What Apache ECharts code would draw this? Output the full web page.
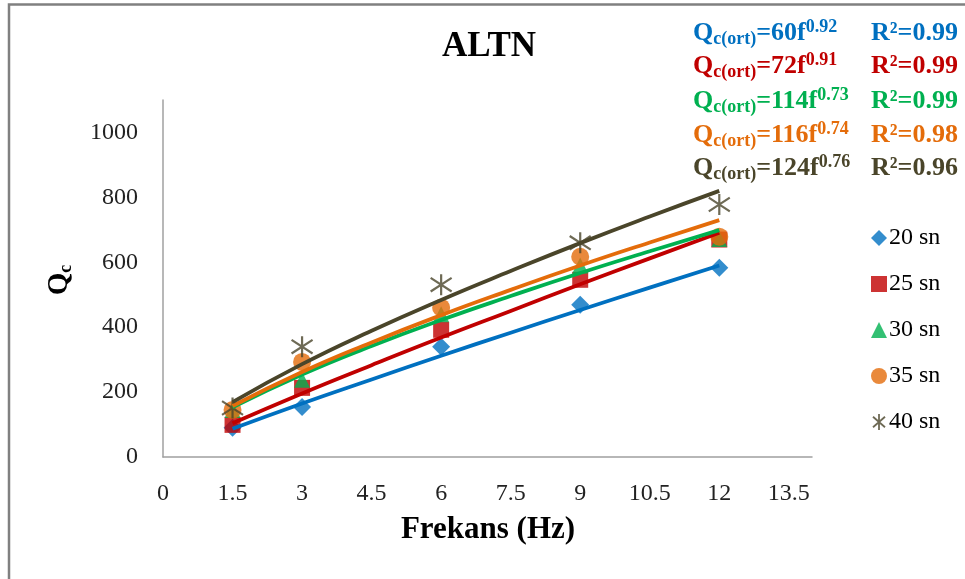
<!DOCTYPE html>
<html><head><meta charset="utf-8">
<script src="https://cdn.jsdelivr.net/npm/echarts@6/dist/echarts.min.js"></script>
<style>html,body{margin:0;padding:0;background:#fff}#c{width:965px;height:579px}</style>
</head><body><div id="c"></div>
<script>
// ---- data ----
const freq = [1.5, 3, 6, 9, 12];
const s20 = [90, 154, 340, 469, 583];
const s25 = [99, 213, 392, 546, 670];
const s30 = [145, 238, 440, 590, 672];
const s35 = [145, 293, 460, 617, 679];
const s40 = [151, 340, 531, 660, 778];
// trend-line values
const trendFreq = [1.5, 3, 4.5, 6, 7.5, 9, 10.5, 12];
const t20 = [87, 165, 239, 312, 383, 453, 522, 590];
const t25 = [104, 196, 283, 368, 450, 532, 612, 691];
const t30 = [153, 254, 342, 422, 496, 567, 634, 699];
const t35 = [157, 262, 353, 437, 515, 590, 661, 730];
const t40 = [169, 286, 389, 484, 573, 659, 741, 820];
const seriesNames = ['20 sn', '25 sn', '30 sn', '35 sn', '40 sn'];
const eqCoef = ['60', '72', '114', '116', '124'];
const eqExp = ['0.92', '0.91', '0.73', '0.74', '0.76'];
const eqR2 = ['0.99', '0.99', '0.99', '0.98', '0.96'];
const titleText = 'ALTN';
const xName = 'Frekans (Hz)';

// ---- styling ----
const FONT = '"Liberation Serif", "Times New Roman", serif';
const colors = ['#0070C0', '#C00000', '#00B050', '#E46C0A', '#4A452A'];
const symbols = ['diamond', 'rect', 'triangle', 'circle',
  'path://M10,0L10,20M2.5,3.5L17.5,16.5M2.5,16.5L17.5,3.5'];
const symSizes = [18, 16, 16, 18, 21];
const pts = [s20, s25, s30, s35, s40];
const trends = [t20, t25, t30, t35, t40];

const series = [];
trends.forEach((t, i) => {
  series.push({
    name: 'trend' + i, type: 'line', smooth: true, showSymbol: false, symbol: 'none',
    data: trendFreq.map((x, k) => [x, t[k]]),
    lineStyle: { color: colors[i], width: 3.8 }, z: 5 + i, silent: true
  });
});
pts.forEach((p, i) => {
  const isStar = i === 4;
  series.push({
    name: seriesNames[i], type: 'scatter', symbol: symbols[i], symbolSize: symSizes[i],
    data: freq.map((x, k) => [x, p[k]]),
    itemStyle: isStar ? { color: 'rgba(0,0,0,0)', borderColor: colors[i], borderWidth: 2.2 }
                      : { color: colors[i] },
    z: 2 + i
  });
});

const graphics = [
  { type: 'rect', shape: { x: 9, y: 4.5, width: 1200, height: 1200 },
    style: { fill: 'none', stroke: '#808080', lineWidth: 2.5 }, silent: true },
  { type: 'text', x: 489, y: 47, style: { text: titleText, font: 'bold 35px ' + FONT,
      fill: '#000', align: 'center', verticalAlign: 'middle' } },
  { type: 'text', x: 488, y: 530, style: { text: xName, font: 'bold 31px ' + FONT,
      fill: '#000', align: 'center', verticalAlign: 'middle' } },
  { type: 'text', x: 60, y: 280, rotation: Math.PI / 2,
    style: { text: '{q|Q}{s|c}', align: 'center', verticalAlign: 'middle', fill: '#000',
      rich: { q: { fontFamily: FONT, fontWeight: 'bold', fontSize: 29, fill: '#000', lineHeight: 32, verticalAlign: 'middle' },
              s: { fontFamily: FONT, fontWeight: 'bold', fontSize: 18, fill: '#000', lineHeight: 32, verticalAlign: 'middle', padding: [12, 0, 0, 0] } } } }
];
const rowY = [33, 66, 101, 135, 168];
eqCoef.forEach((c, i) => {
  const col = colors[i];
  graphics.push({ type: 'text', x: 693, y: rowY[i],
    style: { text: `{q|Q}{s|c(ort)}{e|=${c}f}{p|${eqExp[i]}}`, align: 'left', verticalAlign: 'middle',
      rich: {
        q: { fontFamily: FONT, fontWeight: 'bold', fontSize: 26, fill: col, lineHeight: 30, verticalAlign: 'middle' },
        s: { fontFamily: FONT, fontWeight: 'bold', fontSize: 18, fill: col, lineHeight: 20, verticalAlign: 'middle', padding: [12, 0, 0, 0] },
        e: { fontFamily: FONT, fontWeight: 'bold', fontSize: 26, fill: col, lineHeight: 30, verticalAlign: 'middle' },
        p: { fontFamily: FONT, fontWeight: 'bold', fontSize: 18, fill: col, lineHeight: 20, verticalAlign: 'middle', padding: [0, 0, 11, 0] }
      } } });
  graphics.push({ type: 'text', x: 871, y: rowY[i],
    style: { text: 'R²=' + eqR2[i], font: 'bold 26px ' + FONT, fill: col, align: 'left', verticalAlign: 'middle' } });
});

const chart = echarts.init(document.getElementById('c'), null, { renderer: 'canvas' });
chart.setOption({
  backgroundColor: '#fff',
  animation: false,
  grid: { left: 163, top: 100, right: 153, bottom: 122, containLabel: false },
  xAxis: {
    type: 'value', min: 0, max: 14, interval: 1.5,
    axisLine: { lineStyle: { color: '#A0A0A0', width: 1.5 } },
    axisTick: { show: false }, splitLine: { show: false },
    axisLabel: { margin: 25, fontFamily: FONT, fontSize: 24, color: '#222',
      formatter: v => (v > 13.6 ? '' : String(v)) }
  },
  yAxis: {
    type: 'value', min: 0, max: 1100, interval: 200,
    axisLine: { show: true, lineStyle: { color: '#A0A0A0', width: 1.5 } },
    axisTick: { show: false }, splitLine: { show: false },
    axisLabel: { margin: 25, fontFamily: FONT, fontSize: 24, color: '#222',
      formatter: v => (v > 1000 ? '' : String(v)) }
  },
  legend: {
    orient: 'vertical', left: 866, top: 221, itemGap: 22, itemWidth: 16, itemHeight: 16,
    data: seriesNames.map((n, i) => ({ name: n, icon: symbols[i],
      itemStyle: i === 4 ? { color: 'rgba(0,0,0,0)', borderColor: colors[4], borderWidth: 1.8 } : { color: colors[i] } })),
    textStyle: { fontFamily: FONT, fontSize: 24, lineHeight: 24, color: '#000', padding: [0, 0, 0, -3] }
  },
  series: series,
  graphic: graphics
});
</script></body></html>
